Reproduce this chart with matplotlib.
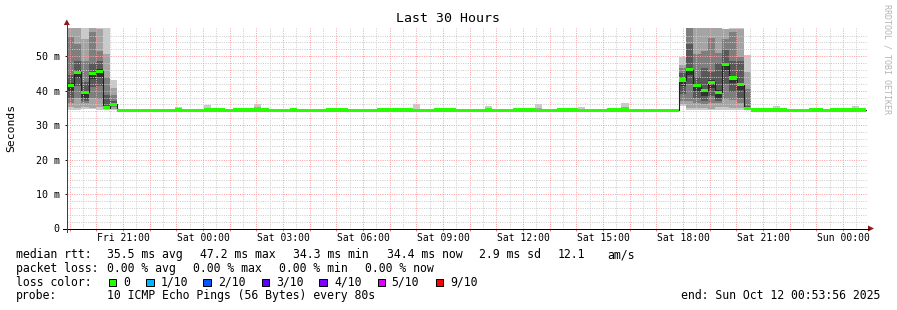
import numpy as np
import matplotlib
matplotlib.use("Agg")
import matplotlib.pyplot as plt
from matplotlib.patches import Rectangle, Polygon
from matplotlib.lines import Line2D

W, H = 897, 310
MONO = "DejaVu Sans Mono"

title = "Last 30 Hours"
y_label = "Seconds"
x_tick_labels = ["Fri 21:00", "Sat 00:00", "Sat 03:00", "Sat 06:00", "Sat 09:00",
                 "Sat 12:00", "Sat 15:00", "Sat 18:00", "Sat 21:00", "Sun 00:00"]
y_tick_values = [0, 10, 20, 30, 40, 50]
y_tick_labels = ["0", "10 m", "20 m", "30 m", "40 m", "50 m"]

# median rtt per consolidated step (ms)
median_ms = [
    41.6, 45.4, 39.5, 45.0, 45.7, 35.1, 36.0,
    34.3, 34.3, 34.3, 34.3, 34.3, 34.3, 34.3, 34.3, 34.4, 34.3, 34.3, 34.3,
    34.4, 34.4, 34.4, 34.3, 34.4, 34.4, 34.4, 34.4, 34.4, 34.3, 34.3, 34.3,
    34.4, 34.3, 34.3, 34.3, 34.3, 34.4, 34.4, 34.4, 34.3, 34.3, 34.3, 34.3,
    34.4, 34.4, 34.4, 34.4, 34.4, 34.3, 34.3, 34.3, 34.4, 34.4, 34.4, 34.3,
    34.3, 34.3, 34.3, 34.4, 34.3, 34.3, 34.3, 34.4, 34.4, 34.4, 34.3, 34.3,
    34.3, 34.4, 34.4, 34.4, 34.3, 34.3, 34.3, 34.3, 34.4, 34.4, 34.4, 34.3,
    34.3, 34.3, 34.3, 34.3, 34.3, 34.3,
    43.1, 46.1, 41.5, 40.1, 42.5, 39.6, 47.5, 43.7, 41.7, 34.8,
    34.4, 34.4, 34.4, 34.4, 34.4, 34.3, 34.3, 34.3, 34.4, 34.4, 34.3, 34.4,
    34.4, 34.4, 34.4, 34.4,
]

# steps that show smoke, with their 10 sorted ping times (ms)
smoke_index = [0, 1, 2, 3, 4, 5, 6,
               15, 19, 26, 48, 58, 65, 71, 77,
               85, 86, 87, 88, 89, 90, 91, 92, 93, 94,
               98, 109]
smoke_pings = [
    [34.5, 35.2, 36.5, 38.0, 40.0, 42.1, 44.5, 55.7, 58.5, 58.5],
    [34.5, 35.0, 38.0, 41.5, 43.8, 45.9, 48.5, 53.5, 58.5, 58.5],
    [34.7, 35.2, 36.5, 37.0, 37.9, 40.0, 42.5, 48.5, 55.0, 58.5],
    [34.6, 35.0, 38.0, 41.0, 43.4, 45.5, 48.0, 57.0, 58.5, 58.5],
    [34.5, 35.3, 37.5, 41.5, 44.1, 46.2, 48.5, 51.5, 58.0, 58.5],
    [34.3, 34.6, 34.8, 35.0, 35.0, 35.2, 38.7, 44.0, 50.6, 58.5],
    [34.4, 34.8, 35.2, 35.6, 35.8, 36.1, 37.0, 38.7, 40.7, 43.1],
    [34.3, 34.3, 34.3, 34.3, 34.3, 34.3, 34.3, 34.3, 34.6, 35.2],
    [34.4, 34.4, 34.4, 34.4, 34.4, 34.4, 34.4, 34.4, 34.5, 35.8],
    [34.4, 34.4, 34.4, 34.4, 34.4, 34.4, 34.4, 34.5, 35.4, 36.0],
    [34.3, 34.3, 34.3, 34.3, 34.3, 34.3, 34.3, 34.4, 34.8, 36.0],
    [34.4, 34.4, 34.4, 34.4, 34.4, 34.4, 34.4, 34.4, 34.6, 35.5],
    [34.3, 34.3, 34.3, 34.3, 34.3, 34.3, 34.3, 34.4, 35.0, 36.0],
    [34.3, 34.3, 34.3, 34.3, 34.3, 34.3, 34.3, 34.3, 34.5, 35.3],
    [34.4, 34.4, 34.4, 34.4, 34.4, 34.4, 34.4, 34.5, 35.2, 36.3],
    [35.6, 36.0, 37.0, 39.0, 41.5, 43.6, 45.0, 46.5, 47.5, 49.9],
    [34.5, 35.0, 37.0, 42.0, 44.5, 46.6, 53.7, 58.5, 58.5, 58.5],
    [34.4, 35.0, 36.5, 38.0, 39.9, 42.0, 44.1, 50.7, 58.5, 58.5],
    [34.4, 34.9, 36.0, 37.0, 38.5, 40.6, 46.5, 51.5, 58.5, 58.5],
    [34.3, 34.8, 36.5, 38.5, 40.9, 43.0, 45.5, 55.3, 58.5, 58.5],
    [34.3, 35.3, 36.3, 37.0, 38.0, 40.1, 47.9, 51.0, 58.5, 58.5],
    [34.4, 35.2, 37.5, 42.0, 45.9, 48.0, 51.8, 55.0, 57.8, 58.0],
    [34.4, 35.0, 37.3, 39.5, 42.1, 44.2, 48.5, 57.0, 57.8, 58.3],
    [34.5, 35.0, 36.3, 38.0, 40.1, 42.2, 48.5, 49.9, 57.8, 58.3],
    [34.3, 34.6, 34.8, 34.9, 34.9, 35.0, 35.5, 40.5, 45.5, 50.4],
    [34.4, 34.4, 34.4, 34.4, 34.4, 34.4, 34.4, 34.5, 35.0, 35.7],
    [34.4, 34.4, 34.4, 34.4, 34.4, 34.4, 34.4, 34.5, 35.0, 35.7],
]
band_colors = ["#cacaca", "#a4a4a4", "#7e7e7e", "#585858", "#323232"]

loss_labels = ["0", "1/10", "2/10", "3/10", "4/10", "5/10", "9/10"]
loss_colors = ["#26ff00", "#00b8ff", "#0059ff", "#5e00ff", "#7e00ff", "#dd00ff", "#ff0000"]

# ---------------------------------------------------------------------------
def fx(x):
    return x / W

def fy(y):
    return 1 - y / H

PT = 0.72  # points per pixel at dpi 100

fig = plt.figure(figsize=(W / 100, H / 100), dpi=100, facecolor="white")
ax_left, ax_right, ax_top, ax_bot = 67, 867, 28, 228.5
ax = fig.add_axes([fx(ax_left), fy(ax_bot), (ax_right - ax_left) / W, (ax_bot - ax_top) / H])
ax.set_facecolor("white")

span_h = 30.0
step_h = 0.27
ymax = 58.2
ax.set_xlim(0, span_h)
ax.set_ylim(0, ymax)

# grid (first full hour at 0.1 h from the left edge)
first_hour = 0.1
for k in range(0, 61):
    xv = first_hour + 0.5 * k
    if xv > span_h:
        break
    if k % 2 == 1:
        ax.axvline(xv, color="#cdcdcd", lw=PT, ls=(0, (1, 1.3)), zorder=1.5)
for k in range(0, 31):
    xv = first_hour + k
    if xv > span_h:
        break
    ax.axvline(xv, color="#ffa0a0", lw=PT, ls=(0, (1, 1.3)), zorder=1.6)
for v in range(2, 58, 2):
    if v % 10:
        ax.axhline(v, color="#cdcdcd", lw=PT, ls=(0, (1, 1.3)), zorder=1.5)
for v in range(10, 58, 10):
    ax.axhline(v, color="#ffa0a0", lw=PT, ls=(0, (1, 1.3)), zorder=1.6)

# smoke
sx = np.array(smoke_index) * step_h
sp = np.array(smoke_pings)
for k, col in enumerate(band_colors):
    lo = sp[:, k]
    hi = sp[:, 9 - k]
    ax.bar(sx, hi - lo, bottom=lo, width=step_h, align="edge", color=col,
           linewidth=0, antialiased=False, zorder=1.0 + 0.01 * k)

# median line + loss-coloured marker
med = np.array(median_ms)
xs = np.arange(len(med)) * step_h
ax.step(np.append(xs, xs[-1] + step_h), np.append(med, med[-1]), where="post",
        color="#202020", lw=0.8, zorder=2.5)
gw = 0.45
ax.bar(xs, 2 * gw, bottom=med - gw, width=step_h, align="edge", color=loss_colors[0],
       linewidth=0, antialiased=False, zorder=3)

# ticks
for s in ax.spines.values():
    s.set_visible(False)
label_pos = [first_hour + 2 + 3 * i for i in range(len(x_tick_labels))]
ax.set_xticks(label_pos)
ax.set_xticklabels(x_tick_labels, fontfamily=MONO, fontsize=7.0)
ax.set_xticks([first_hour + k for k in range(30)], minor=True)
ax.tick_params(axis="x", which="both", direction="out", length=2 * PT, width=PT,
               color="#ff7070", pad=2.0)
ax.set_yticks(y_tick_values)
ax.set_yticklabels(y_tick_labels, fontfamily=MONO, fontsize=7.2)
ax.tick_params(axis="y", direction="out", length=2.5 * PT, width=PT, color="#202020", pad=3.6)

# axis lines with arrows
fig.add_artist(Line2D([fx(63), fx(869)], [fy(ax_bot), fy(ax_bot)], color="black", lw=PT,
                      transform=fig.transFigure))
fig.add_artist(Polygon([(fx(868), fy(ax_bot - 3)), (fx(868), fy(ax_bot + 3)), (fx(874), fy(ax_bot))],
                       closed=True, color="#8b1a1a", transform=fig.transFigure, lw=0))
fig.add_artist(Line2D([fx(66.8), fx(66.8)], [fy(232), fy(24)], color="#6b2b2b", lw=PT,
                      transform=fig.transFigure))
fig.add_artist(Polygon([(fx(63.8), fy(25)), (fx(69.8), fy(25)), (fx(66.8), fy(19.5))],
                       closed=True, color="#8b1a1a", transform=fig.transFigure, lw=0))

# title / labels
fig.text(fx(448), fy(19), title, ha="center", va="center", fontfamily=MONO, fontsize=9.5)
fig.text(fx(11), fy(128), y_label, ha="center", va="center", rotation=90,
         fontfamily=MONO, fontsize=8.2)
fig.text(fx(887), fy(4), "RRDTOOL / TOBI OETIKER", ha="center", va="top", rotation=270,
         fontfamily=MONO, fontsize=6.0, color="#b4b4b4")

# legend block
LF = 8.3
line1 = [("median rtt:", 16), ("35.5 ms avg", 107), ("47.2 ms max", 200), ("34.3 ms min", 293),
         ("34.4 ms now", 387), ("2.9 ms sd", 479), ("12.1", 558), ("am/s", 607)]
line2 = [("packet loss:", 16), ("0.00 % avg", 107), ("0.00 % max", 193),
         ("0.00 % min", 279), ("0.00 % now", 365)]
for txt, x in line1:
    fig.text(fx(x), fy(258.3), txt, ha="left", va="baseline", fontfamily=MONO, fontsize=LF)
for txt, x in line2:
    fig.text(fx(x), fy(271.8), txt, ha="left", va="baseline", fontfamily=MONO, fontsize=LF)

fig.text(fx(16), fy(285.8), "loss color:", ha="left", va="baseline", fontfamily=MONO, fontsize=LF)
box_x = [108.7, 146, 203.3, 261.7, 319.3, 377.7, 435.7]
lab_x = [123.3, 160.7, 218.3, 276, 334, 391.7, 450]
for lab, col, bx, lx in zip(loss_labels, loss_colors, box_x, lab_x):
    fig.add_artist(Rectangle((fx(bx), fy(286.3)), 7.5 / W, 7.5 / H, facecolor=col,
                             edgecolor="black", lw=PT, transform=fig.transFigure))
    fig.text(fx(lx), fy(285.8), lab, ha="left", va="baseline", fontfamily=MONO, fontsize=LF)

fig.text(fx(16), fy(299.4), "probe:", ha="left", va="baseline", fontfamily=MONO, fontsize=LF)
fig.text(fx(107), fy(299.4), "10 ICMP Echo Pings (56 Bytes) every 80s", ha="left",
         va="baseline", fontfamily=MONO, fontsize=LF)
fig.text(fx(880), fy(299.4), "end: Sun Oct 12 00:53:56 2025", ha="right", va="baseline",
         fontfamily=MONO, fontsize=LF)

fig.savefig("out.png", dpi=100, facecolor="white")
